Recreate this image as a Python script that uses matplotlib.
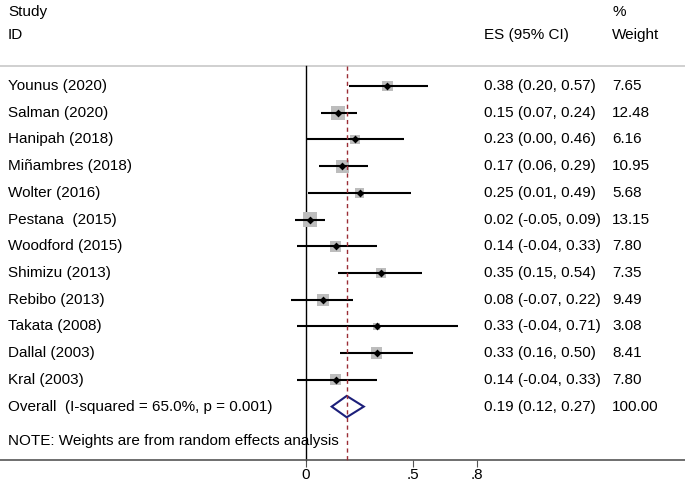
import numpy as np
import matplotlib
matplotlib.use('Agg')
import matplotlib.pyplot as plt

plt.rcParams['font.family'] = ['Liberation Sans', 'DejaVu Sans']

# data
studies = ['Younus (2020)', 'Salman (2020)', 'Hanipah (2018)', 'Miñambres (2018)',
           'Wolter (2016)', 'Pestana  (2015)', 'Woodford (2015)', 'Shimizu (2013)',
           'Rebibo (2013)', 'Takata (2008)', 'Dallal (2003)', 'Kral (2003)']
es = [0.38, 0.15, 0.23, 0.17, 0.25, 0.02, 0.14, 0.35, 0.08, 0.33, 0.33, 0.14]
lo = [0.20, 0.07, 0.00, 0.06, 0.01, -0.05, -0.04, 0.15, -0.07, -0.04, 0.16, -0.04]
hi = [0.57, 0.24, 0.46, 0.29, 0.49, 0.09, 0.33, 0.54, 0.22, 0.71, 0.50, 0.33]
weight = [7.65, 12.48, 6.16, 10.95, 5.68, 13.15, 7.80, 7.35, 9.49, 3.08, 8.41, 7.80]
overall_label = 'Overall  (I-squared = 65.0%, p = 0.001)'
overall = (0.19, 0.12, 0.27)
ticks = [0, 0.5, 0.8]
tick_labels = ['0', '.5', '.8']

fig = plt.figure(figsize=(6.85, 4.83), dpi=100)
ax = fig.add_axes([0, 0, 1, 1])
ax.set_xlim(-1.43, 1.771)
ax.set_ylim(14.86, -3.22)

fs = 11
x_lab = -1.393
x_es = 0.832
x_w = 1.43
y_top = -0.75
y_axis = 14.0

# headers
ax.text(x_lab, -2.77, 'Study', fontsize=fs, va='center')
ax.text(x_lab, -1.91, 'ID', fontsize=fs, va='center')
ax.text(x_es, -1.91, 'ES (95% CI)', fontsize=fs, va='center')
ax.text(x_w, -2.77, '%', fontsize=fs, va='center')
ax.text(x_w, -1.91, 'Weight', fontsize=fs, va='center')
ax.axhline(y_top, color='#c8c8c8', lw=1.2)

# reference lines
ax.plot([0, 0], [y_top, y_axis], color='black', lw=1.0, zorder=2)
ax.plot([overall[0]] * 2, [y_top, y_axis], color='#9b2d35', lw=1.0,
        dashes=(3, 2.5), zorder=5)

rows = np.arange(len(studies))
sizes = (np.sqrt(weight) * 3.95 * 0.72) ** 2
ax.scatter(es, rows, s=sizes, marker='s', color='#bdbdbd', zorder=3, linewidths=0)
ax.hlines(rows, lo, hi, color='black', lw=1.5, zorder=4)
ax.scatter(es, rows, s=16, marker='D', color='black', zorder=4, linewidths=0)

for i in rows:
    ax.text(x_lab, i, studies[i], fontsize=fs, va='center')
    ax.text(x_es, i, f'{es[i]:.2f} ({lo[i]:.2f}, {hi[i]:.2f})', fontsize=fs, va='center')
    ax.text(x_w, i, f'{weight[i]:.2f}', fontsize=fs, va='center')

# overall diamond
yo = len(studies)
h = 0.4
ax.fill([overall[1], overall[0], overall[2], overall[0], overall[1]],
        [yo, yo - h, yo, yo + h, yo], facecolor='none', edgecolor='#1c1f7a', lw=1.5, zorder=4)
ax.text(x_lab, yo, overall_label, fontsize=fs, va='center')
ax.text(x_es, yo, f'{overall[0]:.2f} ({overall[1]:.2f}, {overall[2]:.2f})', fontsize=fs, va='center')
ax.text(x_w, yo, '100.00', fontsize=fs, va='center')

ax.text(x_lab, 13.3, 'NOTE: Weights are from random effects analysis', fontsize=fs, va='center')

# x axis
for s in ['top', 'left', 'right']:
    ax.spines[s].set_visible(False)
ax.spines['bottom'].set_position(('data', y_axis))
ax.spines['bottom'].set_color('#555555')
ax.spines['bottom'].set_linewidth(1.2)
ax.set_xticks(ticks)
ax.set_xticklabels(tick_labels, fontsize=fs)
ax.tick_params(axis='x', direction='out', length=5, color='#555555', pad=1)
ax.set_yticks([])

fig.savefig('out.png', dpi=100)
